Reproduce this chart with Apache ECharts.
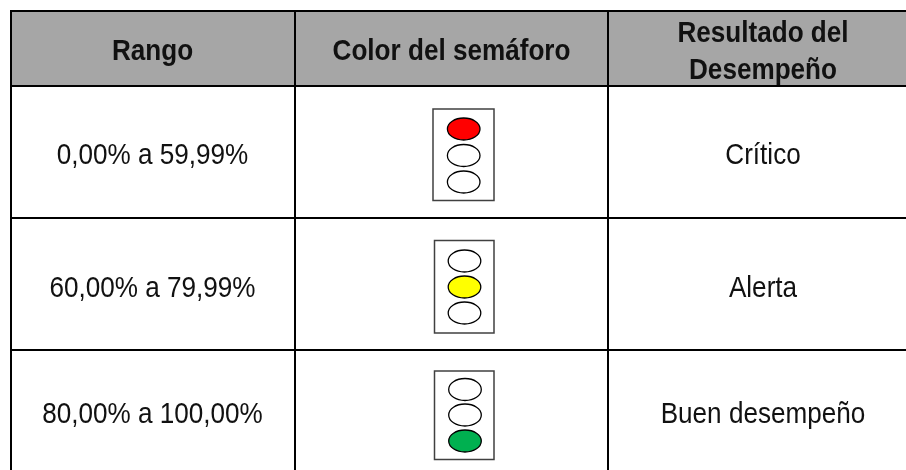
<!DOCTYPE html>
<html>
<head>
<meta charset="utf-8">
<style>
  html, body { margin: 0; padding: 0; background: #fff; }
  #chart { width: 906px; height: 470px; }
</style>
<script src="https://cdn.jsdelivr.net/npm/echarts@6/dist/echarts.min.js"></script>
</head>
<body>
<div id="chart"></div>
<script>
const headers = ['Rango', 'Color del semáforo', 'Resultado del\nDesempeño']
const rangos = ['0,00% a 59,99%', '60,00% a 79,99%', '80,00% a 100,00%']
const resultados = ['Crítico', 'Alerta', 'Buen desempeño']
const luzEncendida = [0, 1, 2]
const coloresLuz = ['#ff0000', '#ffff00', '#00b050']

// layout, in axis units (the axes span the page 1:1)
const colLines = [11, 295, 608, 906]
const rowLines = [11, 86, 218, 350, 470]
const colCenters = [152.5, 451.5, 763]
const rowCenters = [155.5, 288.5, 414.5]
const cajas = [
  { x0: 433, x1: 494, y0: 109, y1: 200.5, cx: 463.7, cy: [129, 155.5, 182] },
  { x0: 434.5, x1: 494, y0: 240.5, y1: 333, cx: 464.5, cy: [261, 287, 313] },
  { x0: 434.5, x1: 494, y0: 371, y1: 459.5, cx: 465, cy: [389.5, 415, 441] }
]
const font = '"Liberation Sans", Arial, sans-serif'
const textSqueeze = 0.885

function rectFrom(api, x0, y0, x1, y1, style) {
  const a = api.coord([x0, y0])
  const b = api.coord([x1, y1])
  return { type: 'rect', shape: { x: a[0], y: a[1], width: b[0] - a[0], height: b[1] - a[1] }, style }
}

function lineFrom(api, x0, y0, x1, y1) {
  const a = api.coord([x0, y0])
  const b = api.coord([x1, y1])
  return {
    type: 'line',
    shape: { x1: a[0], y1: a[1], x2: b[0], y2: b[1] },
    style: { stroke: '#000', lineWidth: 2 }
  }
}

function textAt(api, text, x, y, bold) {
  const p = api.coord([x, y])
  return {
    type: 'text',
    x: p[0],
    y: p[1],
    scaleX: textSqueeze,
    style: {
      text,
      fill: '#111',
      font: (bold ? 'bold ' : '') + '29.5px ' + font,
      lineHeight: 37,
      align: 'center',
      verticalAlign: 'middle'
    }
  }
}

function renderHeader(params, api) {
  const children = [rectFrom(api, colLines[0], rowLines[0], colLines[3], rowLines[1], { fill: '#a6a6a6' })]
  headers.forEach((h, i) => children.push(textAt(api, h, colCenters[i], i === 2 ? 52.5 : 51.5, true)))
  return { type: 'group', children }
}

function renderGridLines(params, api) {
  const children = []
  rowLines.slice(0, 4).forEach((y) => children.push(lineFrom(api, colLines[0] - 1, y, colLines[3], y)))
  colLines.slice(0, 3).forEach((x) => children.push(lineFrom(api, x, rowLines[0], x, rowLines[4])))
  return { type: 'group', children }
}

function renderRow(params, api) {
  const i = params.dataIndex
  const c = cajas[i]
  const children = [
    textAt(api, rangos[i], colCenters[0], rowCenters[i], false),
    textAt(api, resultados[i], colCenters[2], rowCenters[i], false),
    rectFrom(api, c.x0, c.y0, c.x1, c.y1, { fill: '#fff', stroke: '#404040', lineWidth: 1.5 })
  ]
  c.cy.forEach((cy, k) => {
    const p = api.coord([c.cx, cy])
    children.push({
      type: 'ellipse',
      shape: { cx: p[0], cy: p[1], rx: 16.3, ry: 11 },
      style: { fill: k === luzEncendida[i] ? coloresLuz[i] : '#fff', stroke: '#000', lineWidth: 1.3 }
    })
  })
  return { type: 'group', children }
}

const chart = echarts.init(document.getElementById('chart'), null, { renderer: 'canvas' })
chart.setOption({
  animation: false,
  backgroundColor: '#fff',
  grid: { left: 0, right: 0, top: 0, bottom: 0 },
  xAxis: { type: 'value', min: 0, max: 906, show: false },
  yAxis: { type: 'value', min: 0, max: 470, inverse: true, show: false },
  tooltip: { show: false },
  series: [
    { type: 'custom', clip: false, silent: true, data: [[0, 0]], renderItem: renderHeader },
    { type: 'custom', clip: false, silent: true, data: rangos.map((r, i) => [i, i]), renderItem: renderRow },
    { type: 'custom', clip: false, silent: true, data: [[0, 0]], renderItem: renderGridLines }
  ]
})
</script>
</body>
</html>
